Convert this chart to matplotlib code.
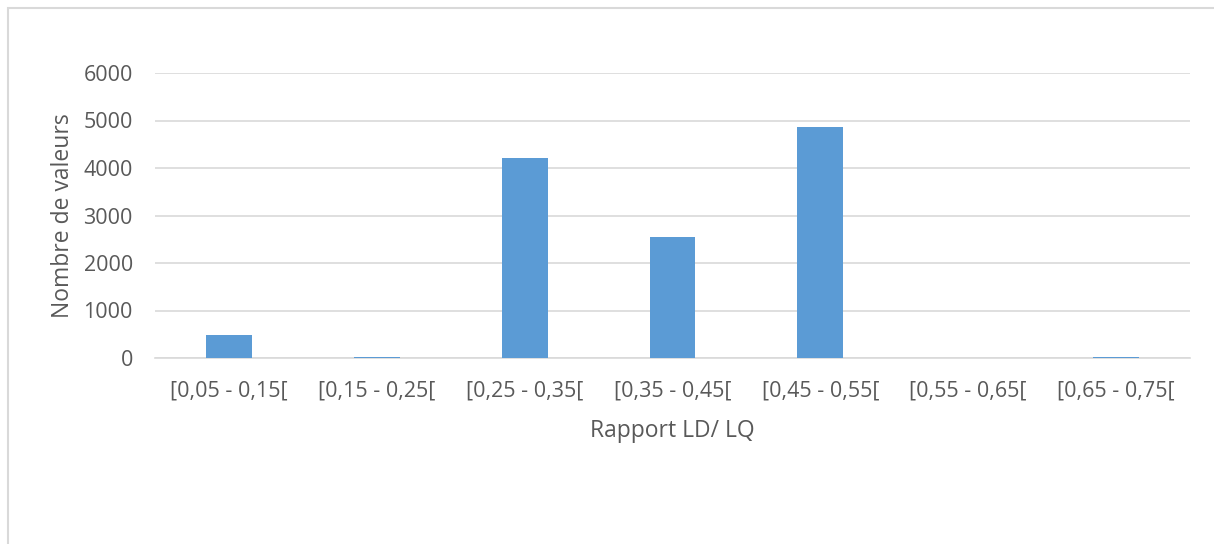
import matplotlib.pyplot as plt
from matplotlib.patches import Rectangle

categories = ['[0,05 - 0,15[', '[0,15 - 0,25[', '[0,25 - 0,35[', '[0,35 - 0,45[',
              '[0,45 - 0,55[', '[0,55 - 0,65[', '[0,65 - 0,75[']
counts = [485, 20, 4210, 2550, 4865, 0, 20]
yticks = [0, 1000, 2000, 3000, 4000, 5000, 6000]

plt.rcParams['font.family'] = ['Open Sans', 'DejaVu Sans']
txt = '#595959'
grid = '#D9D9D9'

fig = plt.figure(figsize=(12.14, 5.44), dpi=100)
# outer chart border (cut off on right and bottom)
fig.patches.append(Rectangle((8/1214, -0.1), 1.1, 1 - 8/544 + 0.1, transform=fig.transFigure,
                             fill=False, edgecolor=grid, linewidth=1.5, clip_on=False))

ax = fig.add_axes([155/1214, 1 - 358/544, (1190 - 155)/1214, (358 - 73)/544])
x = range(len(categories))
ax.bar(x, counts, width=0.31, color='#5B9BD5', zorder=3)
ax.set_xlim(-0.5, len(categories) - 0.5)
ax.set_ylim(0, 6000)
ax.set_yticks(yticks)
ax.set_xticks(list(x))
ax.set_xticklabels(categories)
ax.yaxis.grid(True, color=grid, linewidth=1.2, zorder=0)
for s in ['top', 'right', 'left']:
    ax.spines[s].set_visible(False)
ax.spines['bottom'].set_color(grid)
ax.spines['bottom'].set_linewidth(1.2)
ax.tick_params(axis='both', length=0, colors=txt, labelsize=15.5)
ax.tick_params(axis='x', pad=16)
ax.tick_params(axis='y', pad=16)
ax.set_xlabel('Rapport LD/ LQ', color=txt, fontsize=16.5, labelpad=13)
ax.set_ylabel('Nombre de valeurs', color=txt, fontsize=16.5, labelpad=6)

fig.savefig('out.png', dpi=100)
